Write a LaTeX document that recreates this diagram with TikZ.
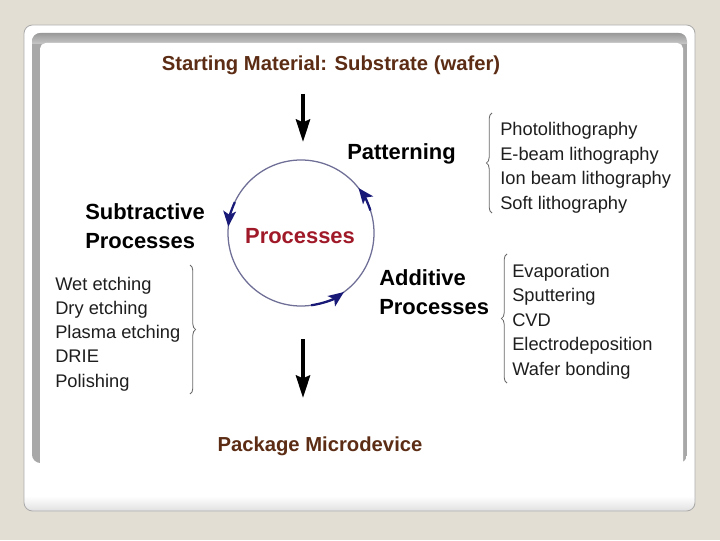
\documentclass[tikz,border=0pt]{standalone}
\usepackage{fontspec}
\setmainfont{Liberation Sans}
\usetikzlibrary{arrows.meta,decorations.pathreplacing}
\definecolor{PageBeige}{RGB}{227,222,211}
\definecolor{FrameGray}{RGB}{168,168,168}
\definecolor{CardEdge}{RGB}{172,172,172}
\definecolor{StepBrown}{RGB}{92,45,20}
\definecolor{ProcRed}{RGB}{160,25,40}
\definecolor{CycNavy}{RGB}{25,25,120}
\definecolor{CycRing}{RGB}{110,110,150}
\definecolor{BraceGray}{RGB}{105,105,105}
\definecolor{ItemInk}{RGB}{30,30,30}

\begin{document}
\begin{tikzpicture}[x=.025cm,y=.025cm,
  lbl/.style={font=\fontsize{15.6}{20.5}\selectfont\bfseries,inner sep=0pt,anchor=base west},
  item/.style={font=\fontsize{13}{15}\selectfont,text=ItemInk,inner sep=0pt,anchor=base west},
  head/.style={font=\fontsize{14.4}{17}\selectfont\bfseries,text=StepBrown,inner sep=0pt,anchor=base},
  bigarrow/.style={line width=2.8pt,-{Stealth[length=16pt,width=10pt,inset=2pt]}},
  cycarrow/.style={CycNavy,line width=1.6pt,-{Stealth[length=11pt,width=9pt,inset=2.5pt]}},
  brc/.style={BraceGray,line width=.6pt,decorate,decoration={brace,amplitude=4pt}}]
  \useasboundingbox (0,0) rectangle (720,540);
  % slide card
  \fill[PageBeige] (0,0) rectangle (720,540);
  \fill[white,rounded corners=6pt] (24,29) rectangle (695,515);
  \begin{scope}
    \clip[rounded corners=6pt] (24,29) rectangle (695,515);
    \shade[top color=white,bottom color=black!12] (24,29) rectangle (695,44);
  \end{scope}
  \draw[CardEdge,line width=.6pt,rounded corners=6pt] (24,29) rectangle (695,515);
  % grey frame, open at the bottom
  \begin{scope}
    \clip[rounded corners=6pt] (32,77) rectangle (687,507);
    \fill[FrameGray] (32,77) rectangle (687,507);
    \shade[top color=black!40,bottom color=black!22] (32,496) rectangle (687,507);
  \end{scope}
  \fill[white,rounded corners=4pt] (40,70) rectangle (683,497);

  \node[head] (start) at (331,469) {Starting Material: Substrate (wafer)};
  \coordinate (inA) at (303,446);
  \coordinate (inB) at (303,398);
  \draw[bigarrow] (inA) -- (inB);

  % cycle of processes
  \coordinate (hub) at (301,307);
  \draw[CycRing,line width=.9pt] (hub) circle (73);
  \draw[cycarrow] (hub) ++(18:73) arc (18:38:73);
  \draw[cycarrow] (hub) ++(155:73) arc (155:175:73);
  \draw[cycarrow] (hub) ++(278:73) arc (278:306:73);
  \node[lbl,text=ProcRed,anchor=base] (proc) at (300,297) {Processes};

  \node[lbl] (pat) at (347,380) {Patterning};
  \node[lbl,anchor=north west,align=left] (sub) at (85,337) {Subtractive\\Processes};
  \node[lbl,anchor=north west,align=left] (add) at (379,271) {Additive\\Processes};

  % lists
  \foreach \t [count=\i] in {Photolithography,E-beam lithography,Ion beam lithography,Soft lithography}
    \node[item] (pat\i) at (500,{404-24.5*(\i-1)}) {\t};
  \foreach \t [count=\i] in {Evaporation,Sputtering,CVD,Electrodeposition,Wafer bonding}
    \node[item] (add\i) at (512,{263-24.5*(\i-1)}) {\t};
  \foreach \t [count=\i] in {Wet etching,Dry etching,Plasma etching,DRIE,Polishing}
    \node[item] (sub\i) at (55,{250-24.3*(\i-1)}) {\t};
  \draw[brc] (492,327) -- (492,427);
  \draw[brc] (507,157) -- (507,286);
  \draw[brc] (190,275) -- (190,146);

  \coordinate (outA) at (303,201);
  \coordinate (outB) at (303,142);
  \draw[bigarrow] (outA) -- (outB);
  \node[head] (pkg) at (320,89) {Package Microdevice};
\end{tikzpicture}
\end{document}
